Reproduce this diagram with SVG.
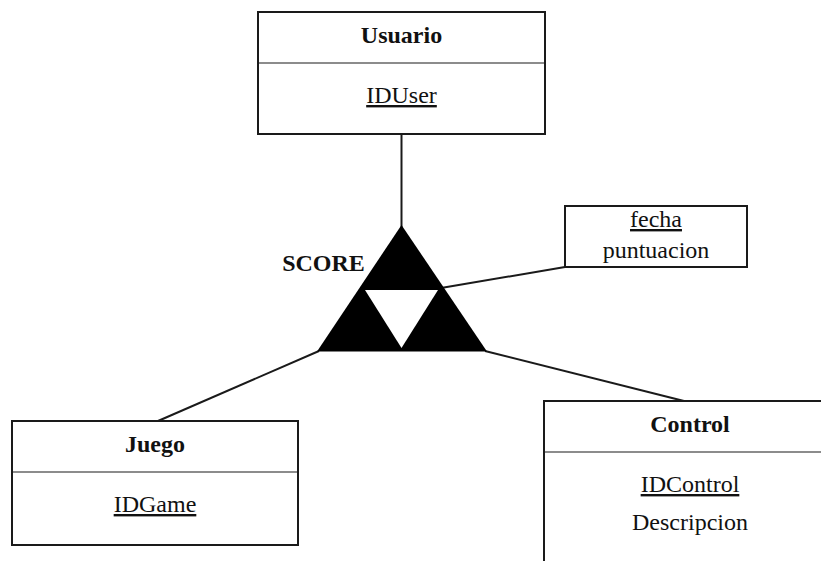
<svg xmlns="http://www.w3.org/2000/svg" width="821" height="561" viewBox="0 0 821 561">
  <style>
    .box { fill: #ffffff; stroke: #1a1a1a; stroke-width: 2; }
    .div { stroke: #8c8c8c; stroke-width: 2; }
    .link { stroke: #1a1a1a; stroke-width: 2; fill: none; }
    text { font-family: "Liberation Serif", "DejaVu Serif", serif; font-size: 24px; font-weight: normal; fill: #111111; text-anchor: middle; }
    .title { font-weight: bold; font-size: 24px; }
    .key { text-decoration: underline; }
  </style>

  <!-- connectors -->
  <g id="connectors">
    <line class="link" x1="401.5" y1="134" x2="401.5" y2="230"/>
    <line class="link" x1="441" y1="288" x2="565" y2="267"/>
    <line class="link" x1="319" y1="351" x2="158" y2="421"/>
    <line class="link" x1="485" y1="351" x2="684" y2="401"/>
  </g>

  <!-- ternary relationship -->
  <g id="score">
    <polygon points="401.5,225 317,351.5 487,351.5" fill="#000000"/>
    <polygon points="365,290 438,290 401.5,348" fill="#ffffff"/>
    <text class="title" x="323.5" y="271">SCORE</text>
  </g>

  <g id="usuario">
    <rect class="box" x="258" y="12" width="287" height="122"/>
    <line class="div" x1="259" y1="63" x2="544" y2="63"/>
    <text class="title" x="401.5" y="43">Usuario</text>
    <text class="key" x="401.5" y="103">IDUser</text>
  </g>

  <g id="atributos">
    <rect class="box" x="565" y="206" width="182" height="61"/>
    <text class="key" x="656" y="227">fecha</text>
    <text x="656" y="258">puntuacion</text>
  </g>

  <g id="juego">
    <rect class="box" x="12" y="421" width="286" height="124"/>
    <line class="div" x1="13" y1="472" x2="297" y2="472"/>
    <text class="title" x="155" y="452">Juego</text>
    <text class="key" x="155" y="512">IDGame</text>
  </g>

  <g id="control">
    <rect class="box" x="544" y="401" width="300" height="180"/>
    <line class="div" x1="545" y1="452" x2="821" y2="452"/>
    <text class="title" x="690" y="432">Control</text>
    <text class="key" x="690" y="492">IDControl</text>
    <text x="690" y="530">Descripcion</text>
  </g>
</svg>
